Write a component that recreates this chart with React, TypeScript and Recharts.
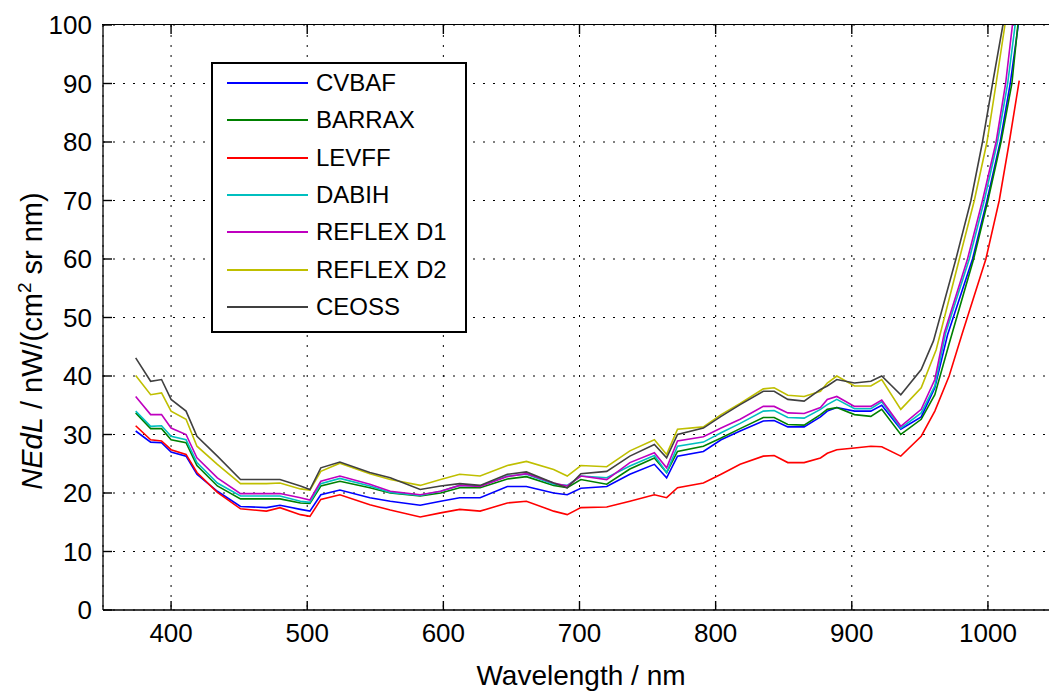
import React from 'react';
import { LineChart, Line, XAxis, YAxis, CartesianGrid, Legend } from 'recharts';

const wavelengths = [374, 385, 393, 400, 411, 419, 434, 451, 470, 480, 495, 502, 510, 524, 546, 561, 583, 598, 612, 627, 647, 661, 681, 691, 701, 720, 737, 755, 764, 772, 791, 804, 818, 835, 843, 853, 865, 877, 882, 889, 902, 914, 922, 936, 951];

const cvbaf = [30.6, 28.7, 28.6, 27.0, 26.3, 23.2, 20.3, 17.7, 17.5, 17.9, 17.2, 16.9, 19.7, 20.5, 19.2, 18.6, 17.9, 18.6, 19.2, 19.2, 21.1, 21.1, 20.0, 19.7, 20.8, 21.1, 23.2, 24.9, 22.6, 26.3, 27.1, 29.1, 30.6, 32.3, 32.4, 31.3, 31.3, 33.0, 34.0, 34.6, 34.0, 34.0, 35.0, 30.9, 33.0];
const barrax = [33.7, 31.0, 31.0, 29.1, 28.6, 24.7, 21.2, 19.0, 19.0, 19.0, 18.3, 18.2, 21.2, 22.0, 20.9, 20.0, 19.5, 20.0, 20.9, 20.9, 22.4, 22.8, 21.3, 20.9, 22.3, 21.5, 24.1, 26.0, 23.5, 27.1, 28.0, 29.4, 31.0, 32.9, 32.9, 31.7, 31.6, 33.4, 34.3, 34.6, 33.4, 33.1, 34.3, 30.0, 32.6];
const levff = [31.5, 29.1, 28.9, 27.4, 26.6, 23.5, 20.1, 17.3, 16.9, 17.5, 16.3, 16.0, 18.9, 19.7, 18.0, 17.1, 15.9, 16.6, 17.2, 16.9, 18.3, 18.6, 16.9, 16.3, 17.5, 17.6, 18.6, 19.7, 19.2, 20.9, 21.7, 23.2, 24.9, 26.3, 26.4, 25.2, 25.2, 26.0, 26.8, 27.4, 27.7, 28.0, 27.9, 26.3, 29.7];
const dabih = [34.0, 31.4, 31.5, 29.7, 29.1, 25.2, 21.7, 19.5, 19.5, 19.5, 18.6, 18.4, 21.6, 22.5, 21.2, 20.1, 19.6, 20.3, 21.3, 21.2, 22.9, 23.2, 21.5, 21.3, 22.9, 22.6, 24.6, 26.4, 23.5, 28.0, 28.7, 30.3, 31.9, 34.0, 34.1, 32.9, 32.8, 34.3, 35.1, 36.0, 34.4, 34.4, 35.6, 31.1, 33.7];
const reflexD1 = [36.5, 33.4, 33.4, 31.1, 30.0, 26.0, 22.6, 19.9, 19.9, 19.9, 19.2, 18.8, 22.0, 22.9, 21.5, 20.3, 19.7, 20.3, 21.3, 21.1, 22.8, 23.3, 21.7, 21.2, 22.9, 22.3, 25.2, 26.9, 24.3, 28.9, 29.6, 31.1, 32.6, 34.8, 34.8, 33.7, 33.6, 34.6, 36.0, 36.5, 34.8, 34.8, 35.9, 31.4, 34.3];
const reflexD2 = [40.1, 36.8, 37.1, 34.0, 32.6, 28.0, 24.9, 21.6, 21.6, 21.7, 20.7, 20.5, 23.7, 25.1, 23.3, 22.3, 21.3, 22.3, 23.2, 22.9, 24.7, 25.4, 24.0, 22.9, 24.7, 24.5, 27.2, 29.1, 26.6, 30.9, 31.3, 33.4, 35.3, 37.8, 38.0, 36.7, 36.5, 37.4, 38.8, 40.0, 38.3, 38.3, 39.4, 34.3, 38.0];
const ceoss = [43.1, 39.1, 39.4, 36.0, 34.0, 29.7, 26.3, 22.3, 22.3, 22.3, 21.2, 20.6, 24.3, 25.3, 23.5, 22.6, 20.6, 21.2, 21.6, 21.3, 23.2, 23.6, 21.7, 20.9, 23.3, 23.7, 26.3, 28.3, 26.0, 30.0, 31.1, 33.1, 35.1, 37.4, 37.4, 36.0, 35.7, 37.7, 38.3, 39.4, 38.8, 39.1, 40.0, 36.8, 41.1];

// steep NIR rise, read separately for each series
const cvbafTailWl = [961, 970.3, 988.7, 999.3, 1009, 1016.4, 1022.3];
const cvbafTailV = [38.0, 47.0, 60, 70, 80, 90, 100];
const barraxTailWl = [961, 971.5, 989.5, 1000, 1009.6, 1017.6, 1022];
const barraxTailV = [36.8, 45.5, 60, 70, 80, 90, 100];
const levffTailWl = [961, 971.5, 981.3, 998.5, 1008.3, 1015.7, 1023];
const levffTailV = [34.0, 40.0, 47.4, 60, 70, 80, 90.5];
const dabihTailWl = [961, 969, 986.3, 997.3, 1007, 1014.5, 1020];
const dabihTailV = [38.3, 47.4, 60, 70, 80, 90, 100];
const reflexD1TailWl = [961, 968, 985, 996, 1006, 1013, 1018];
const reflexD1TailV = [39.4, 47.4, 60, 70, 80, 90, 100];
const reflexD2TailWl = [962, 979, 990, 999.3, 1006, 1012.5];
const reflexD2TailV = [44.5, 60, 70, 80, 90, 100];
const ceossTailWl = [960, 976.5, 987.5, 996, 1003.4, 1011];
const ceossTailV = [46.0, 60, 70, 80, 90, 100];

const xTicks = [400, 500, 600, 700, 800, 900, 1000];
const yTicks = [0, 10, 20, 30, 40, 50, 60, 70, 80, 90, 100];
const xMin = 350;
const xMax = 1050;
const yMin = 0;
const yMax = 100;

const CHART_W = 1056;
const CHART_H = 691;
const M_TOP = 25;
const X_AXIS_H = 81;
const Y_AXIS_W = 103;
const PLOT_W = CHART_W - Y_AXIS_W;
const PLOT_H = CHART_H - M_TOP - X_AXIS_H;

const FONT = "'Liberation Sans', Arial, Helvetica, sans-serif";

function build(values: number[], tailWl: number[], tailV: number[]) {
  const main = wavelengths.map((w, i) => ({ wl: w, v: values[i] }));
  const tail = tailWl.map((w, i) => ({ wl: w, v: tailV[i] }));
  return main.concat(tail);
}

const series = [
  { name: 'CVBAF', color: '#0000ff', data: build(cvbaf, cvbafTailWl, cvbafTailV) },
  { name: 'BARRAX', color: '#008000', data: build(barrax, barraxTailWl, barraxTailV) },
  { name: 'LEVFF', color: '#ff0000', data: build(levff, levffTailWl, levffTailV) },
  { name: 'DABIH', color: '#00bfbf', data: build(dabih, dabihTailWl, dabihTailV) },
  { name: 'REFLEX D1', color: '#bf00bf', data: build(reflexD1, reflexD1TailWl, reflexD1TailV) },
  { name: 'REFLEX D2', color: '#bfbf00', data: build(reflexD2, reflexD2TailWl, reflexD2TailV) },
  { name: 'CEOSS', color: '#404040', data: build(ceoss, ceossTailWl, ceossTailV) },
];
const seriesOrder = series.map((s) => s.name);

// bottom axis tick: inward tick at bottom and mirrored inward tick on the top frame
const XTick = (props: any) => {
  const { x, y, payload } = props;
  return (
    <g>
      <rect x={x - 0.7} y={y - 9} width={1.4} height={9} fill="#000" />
      <rect x={x - 0.7} y={y - PLOT_H} width={1.4} height={9} fill="#000" />
      <text x={x} y={y + 32} textAnchor="middle" fontSize={26} fontFamily={FONT} fill="#000">
        {payload.value}
      </text>
    </g>
  );
};

// left axis tick: inward tick
const YTick = (props: any) => {
  const { x, y, payload } = props;
  return (
    <g>
      <rect x={x} y={y - 0.7} width={9} height={1.4} fill="#000" />
      <text x={x - 11} y={y + 9.3} textAnchor="end" fontSize={26} fontFamily={FONT} fill="#000">
        {payload.value}
      </text>
    </g>
  );
};

const YTitle = () => (
  <text transform="translate(42,341) rotate(-90)" textAnchor="middle" fontSize={29} fontFamily={FONT} fill="#000">
    <tspan fontStyle="italic">NEdL</tspan>
    <tspan> / nW/(cm</tspan>
    <tspan fontSize={19} dy={-11}>2</tspan>
    <tspan dy={11}> sr nm)</tspan>
  </text>
);

const XTitle = () => (
  <text x={581} y={685} textAnchor="middle" fontSize={28} fontFamily={FONT} fill="#000">
    Wavelength / nm
  </text>
);

const renderLegend = (props: any) => {
  const payload = [...(props.payload || [])].sort(
    (a: any, b: any) => seriesOrder.indexOf(a.value) - seriesOrder.indexOf(b.value)
  );
  return (
    <div
      style={{
        position: 'relative',
        width: 256,
        height: 271,
        border: '2px solid #000',
        boxSizing: 'border-box',
        background: '#fff',
        fontFamily: FONT,
      }}
    >
      {payload.map((p: any, i: number) => {
        const cy = 21 + i * 37.3 - 2;
        return (
          <React.Fragment key={p.value}>
            <div style={{ position: 'absolute', left: 14, top: cy - 1, width: 81, height: 2, background: p.color }} />
            <div
              style={{
                position: 'absolute',
                left: 103,
                top: cy - 14,
                fontSize: 24,
                lineHeight: '28px',
                whiteSpace: 'nowrap',
                color: '#000',
              }}
            >
              {p.value}
            </div>
          </React.Fragment>
        );
      })}
    </div>
  );
};

export default function App() {
  return (
    <div style={{ position: 'absolute', left: 0, top: 0, width: 1049, height: 691, overflow: 'hidden', background: '#fff' }}>
      <LineChart width={CHART_W} height={CHART_H} margin={{ top: M_TOP, right: 0, bottom: 0, left: 0 }}>
        <CartesianGrid xAxisId="main" stroke="#000" strokeWidth={1} strokeDasharray="2 8" />
        <XAxis
          xAxisId="main"
          type="number"
          dataKey="wl"
          domain={[xMin, xMax]}
          ticks={xTicks}
          allowDataOverflow
          height={X_AXIS_H}
          tickSize={0}
          tickMargin={0}
          tickLine={false}
          axisLine={{ stroke: '#000', strokeWidth: 1.3 }}
          tick={<XTick />}
          label={<XTitle />}
        />
        <YAxis
          type="number"
          domain={[yMin, yMax]}
          ticks={yTicks}
          allowDataOverflow
          width={Y_AXIS_W}
          tickSize={0}
          tickMargin={0}
          tickLine={false}
          axisLine={{ stroke: '#000', strokeWidth: 1.3 }}
          tick={<YTick />}
          label={<YTitle />}
        />
        <Legend
          layout="horizontal"
          verticalAlign="middle"
          align="center"
          content={renderLegend}
          wrapperStyle={{ position: 'absolute', left: 211, top: 62, width: 256, height: 271 }}
        />
        {series.map((s) => (
          <Line
            key={s.name}
            xAxisId="main"
            data={s.data}
            dataKey="v"
            name={s.name}
            type="linear"
            stroke={s.color}
            strokeWidth={1.6}
            dot={false}
            activeDot={false}
            isAnimationActive={false}
          />
        ))}
      </LineChart>
      {/* top frame of the axes box */}
      <div
        style={{
          position: 'absolute',
          left: Y_AXIS_W - 0.7,
          top: M_TOP - 0.7,
          width: PLOT_W,
          height: 0,
          borderTop: '1.4px solid #000',
          pointerEvents: 'none',
        }}
      />
    </div>
  );
}
